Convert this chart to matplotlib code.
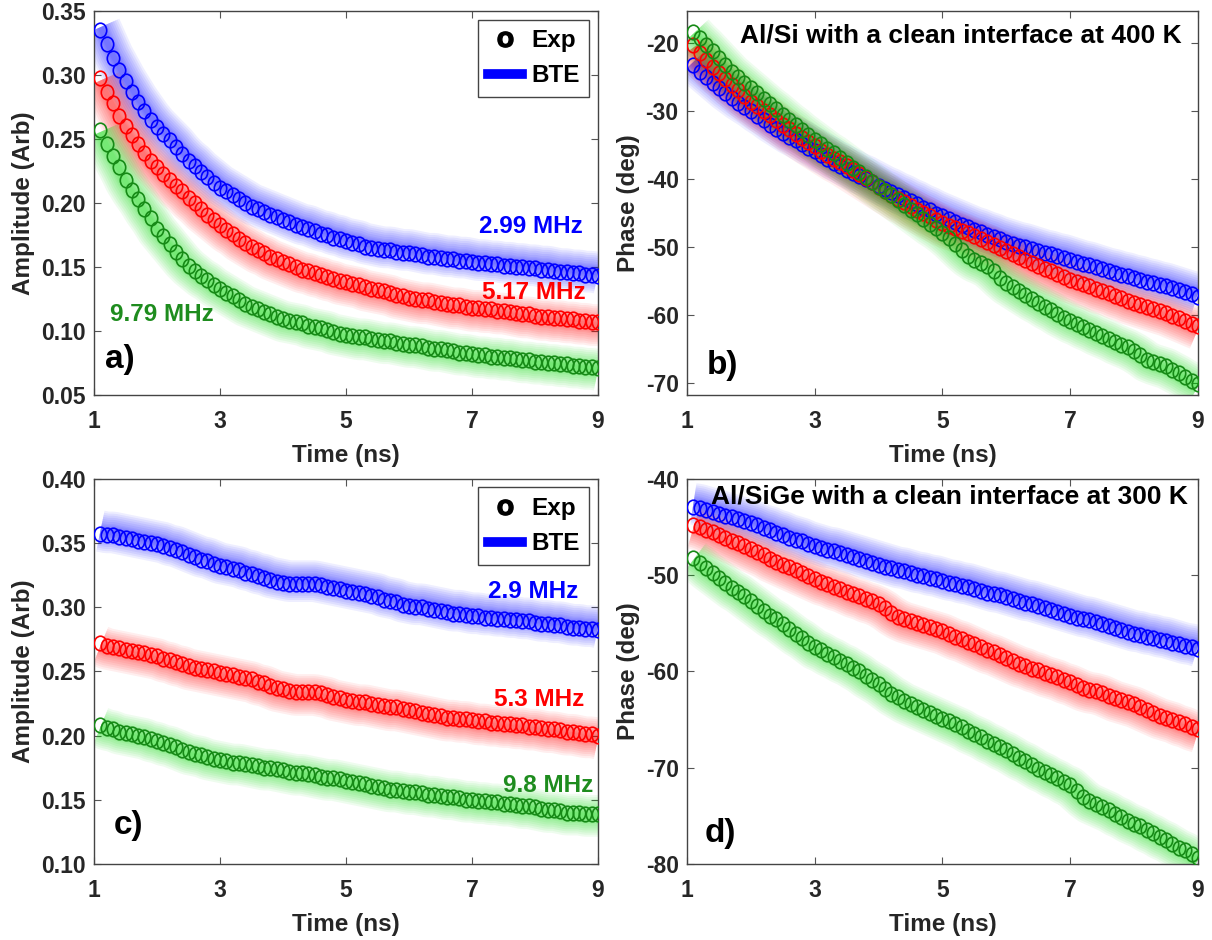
import numpy as np
import matplotlib
matplotlib.use('Agg')
import matplotlib.pyplot as plt
from matplotlib.lines import Line2D
from matplotlib.path import Path
import matplotlib.transforms as mtransforms

plt.rcParams['font.family'] = ['Liberation Sans', 'DejaVu Sans']
plt.rcParams['font.weight'] = 'bold'
plt.rcParams['axes.labelweight'] = 'bold'

# sample times (ns)
time_ns = [1.1, 1.2, 1.3, 1.4, 1.5, 1.6, 1.7, 1.8, 1.9, 2.0,
           2.1, 2.2, 2.3, 2.4, 2.5, 2.6, 2.7, 2.8, 2.9, 3.0,
           3.1, 3.2, 3.3, 3.4, 3.5, 3.6, 3.7, 3.8, 3.9, 4.0,
           4.1, 4.2, 4.3, 4.4, 4.5, 4.6, 4.7, 4.8, 4.9, 5.0,
           5.1, 5.2, 5.3, 5.4, 5.5, 5.6, 5.7, 5.8, 5.9, 6.0,
           6.1, 6.2, 6.3, 6.4, 6.5, 6.6, 6.7, 6.8, 6.9, 7.0,
           7.1, 7.2, 7.3, 7.4, 7.5, 7.6, 7.7, 7.8, 7.9, 8.0,
           8.1, 8.2, 8.3, 8.4, 8.5, 8.6, 8.7, 8.8, 8.9, 9.0]

# a) Al/Si amplitude
amp_si_299 = [.335, .324, .313, .304, .295, .287, .279, .272, .265, .259,
              .254, .249, .244, .238, .233, .229, .224, .220, .216, .212,
              .209, .206, .203, .200, .197, .195, .193, .191, .189, .187,
              .185, .183, .181, .180, .178, .176, .175, .173, .172, .170,
              .169, .168, .166, .165, .164, .163, .163, .162, .161, .161,
              .160, .159, .158, .158, .157, .156, .156, .155, .155, .154,
              .153, .153, .152, .152, .151, .151, .150, .150, .149, .149,
              .148, .148, .147, .146, .146, .145, .145, .144, .144, .143]
amp_si_517 = [.298, .287, .278, .268, .260, .253, .246, .239, .233, .228,
              .223, .218, .213, .209, .204, .200, .195, .191, .187, .183,
              .179, .176, .172, .169, .166, .163, .161, .158, .156, .154,
              .152, .150, .148, .147, .145, .144, .142, .141, .139, .138,
              .137, .136, .134, .133, .132, .131, .130, .128, .127, .126,
              .125, .124, .124, .123, .122, .121, .120, .120, .119, .118,
              .118, .117, .117, .116, .116, .115, .114, .113, .113, .112,
              .111, .111, .110, .110, .109, .109, .108, .108, .107, .107]
amp_si_979 = [.257, .246, .237, .228, .218, .210, .203, .195, .188, .180,
              .174, .168, .162, .156, .151, .147, .143, .140, .136, .133,
              .130, .127, .124, .121, .119, .117, .115, .113, .111, .109,
              .108, .107, .106, .104, .103, .102, .101, .099, .098, .097,
              .096, .095, .095, .094, .093, .092, .092, .091, .090, .089,
              .089, .088, .087, .086, .086, .085, .084, .083, .083, .082,
              .081, .081, .080, .080, .079, .079, .078, .077, .077, .076,
              .076, .075, .075, .074, .074, .073, .073, .072, .072, .071]

# b) Al/Si phase
ph_si_299 = [-23.2, -24.2, -25.0, -25.8, -26.6, -27.4, -28.1, -28.8, -29.4, -30.0,
             -30.7, -31.3, -32.0, -32.6, -33.2, -33.8, -34.3, -34.8, -35.4, -35.9,
             -36.5, -37.0, -37.6, -38.1, -38.6, -39.1, -39.6, -40.0, -40.5, -41.0,
             -41.5, -41.9, -42.4, -42.8, -43.3, -43.7, -44.2, -44.6, -45.1, -45.5,
             -45.9, -46.3, -46.7, -47.1, -47.5, -47.8, -48.2, -48.5, -48.9, -49.2,
             -49.5, -49.8, -50.0, -50.3, -50.6, -50.9, -51.1, -51.4, -51.6, -51.9,
             -52.2, -52.5, -52.7, -53.0, -53.3, -53.6, -53.8, -54.1, -54.3, -54.6,
             -54.8, -55.1, -55.3, -55.6, -55.8, -56.1, -56.4, -56.7, -57.0, -57.3]
ph_si_517 = [-20.2, -21.5, -22.5, -23.5, -24.4, -25.2, -26.1, -26.9, -27.8, -28.6,
             -29.3, -30.0, -30.6, -31.3, -32.0, -32.7, -33.3, -34.0, -34.6, -35.2,
             -35.8, -36.4, -37.0, -37.5, -38.1, -38.7, -39.3, -39.9, -40.5, -41.1,
             -41.7, -42.3, -42.9, -43.4, -44.0, -44.5, -45.0, -45.5, -46.0, -46.5,
             -46.9, -47.2, -47.6, -48.0, -48.4, -48.9, -49.3, -49.7, -50.2, -50.6,
             -51.0, -51.5, -51.9, -52.4, -52.8, -53.2, -53.6, -54.0, -54.4, -54.8,
             -55.1, -55.5, -55.8, -56.2, -56.5, -56.8, -57.2, -57.5, -57.9, -58.2,
             -58.5, -58.8, -59.1, -59.4, -59.7, -60.1, -60.5, -60.9, -61.3, -61.7]
ph_si_979 = [-18.3, -19.3, -20.2, -21.2, -22.2, -23.2, -24.2, -25.0, -25.8, -26.6,
             -27.4, -28.2, -29.0, -29.7, -30.5, -31.3, -32.0, -32.8, -33.5, -34.2,
             -34.9, -35.6, -36.2, -36.9, -37.6, -38.3, -39.0, -39.7, -40.4, -41.1,
             -41.8, -42.4, -43.1, -43.8, -44.5, -45.2, -45.9, -46.6, -47.2, -47.9,
             -48.7, -49.6, -50.5, -51.3, -51.9, -52.3, -52.8, -53.6, -54.5, -55.3,
             -55.9, -56.5, -57.1, -57.7, -58.2, -58.8, -59.3, -59.9, -60.4, -60.9,
             -61.3, -61.8, -62.2, -62.7, -63.1, -63.5, -64.0, -64.4, -64.8, -65.3,
             -65.9, -66.6, -67.0, -67.3, -67.6, -68.1, -68.6, -69.2, -69.7, -70.2]

# c) Al/SiGe amplitude
amp_sige_29 = [.357, .356, .356, .355, .354, .353, .352, .351, .350, .349,
               .348, .346, .345, .343, .341, .339, .337, .336, .334, .332,
               .331, .330, .329, .327, .326, .324, .323, .321, .320, .319,
               .318, .318, .318, .318, .318, .317, .316, .315, .314, .313,
               .312, .311, .310, .309, .308, .306, .305, .304, .302, .301,
               .300, .300, .299, .298, .297, .296, .295, .295, .294, .293,
               .293, .292, .292, .291, .291, .290, .290, .289, .289, .288,
               .287, .287, .286, .286, .285, .284, .284, .283, .283, .282]
amp_sige_53 = [.272, .270, .269, .268, .267, .266, .265, .264, .263, .262,
               .260, .259, .257, .256, .254, .253, .252, .251, .250, .249,
               .248, .247, .246, .245, .244, .242, .241, .239, .237, .236,
               .235, .234, .234, .234, .234, .233, .232, .230, .229, .228,
               .227, .226, .226, .225, .224, .223, .222, .222, .221, .220,
               .219, .218, .217, .216, .215, .214, .214, .213, .213, .212,
               .211, .211, .210, .210, .209, .209, .208, .208, .207, .207,
               .206, .205, .205, .204, .203, .203, .202, .201, .201, .200]
amp_sige_98 = [.208, .206, .205, .203, .202, .201, .200, .199, .197, .196,
               .194, .193, .191, .189, .187, .186, .185, .183, .182, .181,
               .180, .179, .179, .178, .177, .176, .175, .175, .174, .173,
               .172, .171, .171, .170, .169, .168, .167, .167, .166, .165,
               .164, .163, .162, .161, .160, .159, .158, .158, .157, .156,
               .156, .155, .154, .154, .153, .152, .152, .151, .150, .150,
               .149, .149, .148, .148, .147, .147, .146, .145, .145, .144,
               .143, .142, .142, .141, .140, .140, .140, .139, .139, .139]

# d) Al/SiGe phase
ph_sige_29 = [-42.9, -43.0, -43.2, -43.4, -43.6, -43.8, -44.0, -44.2, -44.4, -44.6,
              -44.8, -45.1, -45.3, -45.6, -45.8, -46.1, -46.3, -46.5, -46.8, -47.0,
              -47.2, -47.4, -47.5, -47.7, -47.9, -48.1, -48.3, -48.5, -48.7, -48.9,
              -49.1, -49.3, -49.5, -49.6, -49.8, -50.0, -50.1, -50.3, -50.4, -50.6,
              -50.8, -50.9, -51.1, -51.2, -51.4, -51.6, -51.8, -52.0, -52.1, -52.3,
              -52.5, -52.7, -52.9, -53.0, -53.2, -53.4, -53.6, -53.8, -54.0, -54.2,
              -54.4, -54.6, -54.7, -54.9, -55.1, -55.3, -55.5, -55.7, -55.9, -56.1,
              -56.2, -56.4, -56.5, -56.7, -56.8, -57.0, -57.2, -57.4, -57.5, -57.7]
ph_sige_53 = [-44.8, -45.0, -45.3, -45.5, -45.8, -46.1, -46.4, -46.7, -47.0, -47.3,
              -47.6, -47.9, -48.3, -48.6, -48.9, -49.2, -49.5, -49.8, -50.1, -50.4,
              -50.7, -50.9, -51.2, -51.4, -51.7, -52.0, -52.2, -52.5, -52.7, -53.0,
              -53.4, -53.9, -54.3, -54.6, -54.8, -55.0, -55.2, -55.4, -55.6, -55.8,
              -56.1, -56.4, -56.6, -56.9, -57.2, -57.5, -57.8, -58.0, -58.3, -58.6,
              -58.9, -59.2, -59.4, -59.7, -59.9, -60.2, -60.4, -60.6, -60.9, -61.1,
              -61.4, -61.7, -61.9, -62.0, -62.2, -62.5, -62.8, -63.0, -63.2, -63.4,
              -63.7, -64.0, -64.3, -64.6, -64.8, -65.0, -65.3, -65.5, -65.8, -66.0]
ph_sige_98 = [-48.2, -48.7, -49.3, -49.8, -50.3, -50.8, -51.3, -51.7, -52.2, -52.7,
              -53.2, -53.7, -54.2, -54.6, -55.1, -55.6, -56.1, -56.5, -57.0, -57.5,
              -57.8, -58.2, -58.5, -58.9, -59.2, -59.6, -60.0, -60.5, -60.9, -61.3,
              -61.8, -62.3, -62.7, -63.1, -63.4, -63.7, -64.0, -64.3, -64.6, -64.9,
              -65.2, -65.5, -65.8, -66.2, -66.5, -66.8, -67.2, -67.5, -67.9, -68.2,
              -68.6, -69.0, -69.3, -69.7, -70.1, -70.4, -70.8, -71.1, -71.5, -71.8,
              -72.4, -73.0, -73.5, -73.8, -74.1, -74.4, -74.8, -75.1, -75.5, -75.8,
              -76.1, -76.5, -76.8, -77.2, -77.5, -77.9, -78.3, -78.6, -79.0, -79.4]

freq_labels_si = ['2.99 MHz', '5.17 MHz', '9.79 MHz']
freq_labels_sige = ['2.9 MHz', '5.3 MHz', '9.8 MHz']

# (marker colour, glow colour, glow shift in px) for low / mid / high frequency
colors = [('#0000ff', '#0000ff', 3), ('#ff0000', '#ff0000', -3), ('#168a16', '#00dd00', -2)]
label_colors = ['#0000ff', '#ff0000', '#1e8c1e']
TXT = '#262626'

# slightly tall open circle, like the squashed markers of the original
_circ = Path.unit_circle()
ELLIPSE = Path(_circ.vertices * np.array([0.85, 1.0]), _circ.codes)

# many thin translucent layers -> soft band for the BTE curve
GLOW_WIDTHS = [30, 27, 24, 21, 18, 15, 12, 10, 8, 6, 4]


def plot_series(ax, x, y, mcol, gcol, shift):
    # blurred BTE band, then open circles for the experiment
    tr = ax.transData + mtransforms.ScaledTranslation(0, shift / 100.0, ax.figure.dpi_scale_trans)
    for lw in GLOW_WIDTHS:
        ax.plot(x, y, color=gcol, lw=lw, alpha=0.065, solid_capstyle='butt', zorder=2, transform=tr)
    ax.plot(x, y, ls='none', marker=ELLIPSE, ms=10.5, mfc='none', mec=mcol, mew=1.2, zorder=3)


def style_axes(ax, ylim, yticks, yfmt, ylabel):
    ax.set_xlim(1, 9)
    ax.set_ylim(*ylim)
    ax.set_xticks([1, 3, 5, 7, 9])
    ax.set_yticks(yticks)
    ax.set_yticklabels([yfmt % v for v in yticks])
    ax.tick_params(direction='in', length=5, width=0.8, top=True, right=True,
                   labelsize=16.5, colors=TXT, color='#555555')
    ax.tick_params(axis='x', pad=11)
    ax.tick_params(axis='y', pad=6)
    for s in ax.spines.values():
        s.set_color('#444444')
        s.set_linewidth(1.0)
    ax.set_xlabel('Time (ns)', fontsize=17.5, color=TXT, labelpad=8, fontweight='bold')
    ax.set_ylabel(ylabel, fontsize=17.5, color=TXT, labelpad=4, fontweight='bold')


def add_legend(ax):
    handles = [Line2D([], [], ls='none', marker=r'$\mathsf{O}$', ms=11, color='black'),
               Line2D([], [], color='#0000ff', lw=7)]
    leg = ax.legend(handles, ['Exp', 'BTE'], loc='upper right', fontsize=17.5,
                    handlelength=1.4, handletextpad=0.4, borderaxespad=0.35,
                    fancybox=False, framealpha=1, edgecolor='#444444')
    leg.get_frame().set_linewidth(1.0)


fig = plt.figure(figsize=(12.12, 9.40), dpi=100)
ax_a = fig.add_axes([0.0776, 0.5798, 0.4158, 0.4085])
ax_b = fig.add_axes([0.5668, 0.5798, 0.4216, 0.4085])
ax_c = fig.add_axes([0.0776, 0.0809, 0.4158, 0.4096])
ax_d = fig.add_axes([0.5668, 0.0809, 0.4216, 0.4096])

x = np.array(time_ns)

for ys, (mc, gc, sh) in zip([amp_si_299, amp_si_517, amp_si_979], colors):
    plot_series(ax_a, x, ys, mc, gc, sh)
for ys, (mc, gc, sh) in zip([ph_si_299, ph_si_517, ph_si_979], colors):
    plot_series(ax_b, x, ys, mc, gc, sh)
for ys, (mc, gc, sh) in zip([amp_sige_29, amp_sige_53, amp_sige_98], colors):
    plot_series(ax_c, x, ys, mc, gc, sh)
for ys, (mc, gc, sh) in zip([ph_sige_29, ph_sige_53, ph_sige_98], colors):
    plot_series(ax_d, x, ys, mc, gc, sh)

style_axes(ax_a, (0.05, 0.35), [0.05, 0.10, 0.15, 0.20, 0.25, 0.30, 0.35], '%.2f', 'Amplitude (Arb)')
style_axes(ax_b, (-71.8, -15.25), [-70, -60, -50, -40, -30, -20], '%d', 'Phase (deg)')
style_axes(ax_c, (0.10, 0.40), [0.10, 0.15, 0.20, 0.25, 0.30, 0.35, 0.40], '%.2f', 'Amplitude (Arb)')
style_axes(ax_d, (-80, -40), [-80, -70, -60, -50, -40], '%d', 'Phase (deg)')

add_legend(ax_a)
add_legend(ax_c)

# frequency annotations
fs_ann = 17.5
ax_a.text(8.75, 0.1815, freq_labels_si[0], color=label_colors[0], fontsize=fs_ann, ha='right', va='center')
ax_a.text(8.80, 0.130, freq_labels_si[1], color=label_colors[1], fontsize=fs_ann, ha='right', va='center')
ax_a.text(1.26, 0.113, freq_labels_si[2], color=label_colors[2], fontsize=fs_ann, ha='left', va='center')
ax_c.text(8.68, 0.312, freq_labels_sige[0], color=label_colors[0], fontsize=fs_ann, ha='right', va='center')
ax_c.text(8.78, 0.228, freq_labels_sige[1], color=label_colors[1], fontsize=fs_ann, ha='right', va='center')
ax_c.text(8.92, 0.161, freq_labels_sige[2], color=label_colors[2], fontsize=fs_ann, ha='right', va='center')

# sample descriptions
ax_b.text(8.75, -18.8, 'Al/Si with a clean interface at 400 K', color='black',
          fontsize=19, ha='right', va='center')
ax_d.text(8.85, -41.8, 'Al/SiGe with a clean interface at 300 K', color='black',
          fontsize=19, ha='right', va='center')

# panel letters
for ax, lab, (px, py) in [(ax_a, 'a)', (1.41, 0.0776)), (ax_b, 'b)', (1.55, -67.5)),
                          (ax_c, 'c)', (1.55, 0.130)), (ax_d, 'd)', (1.52, -76.8))]:
    ax.text(px, py, lab, color='black', fontsize=24, ha='center', va='center')

fig.savefig('out.png', dpi=100, facecolor='white')
